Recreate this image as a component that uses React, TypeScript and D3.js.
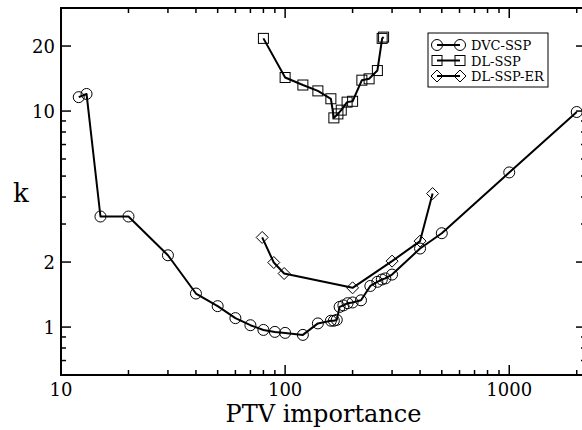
import React, { useEffect, useRef } from "react";
import * as d3 from "d3";

// DVC-SSP
const dvcX = [12, 13, 15, 20, 30, 40, 50, 60, 70, 80, 90, 100, 120, 140, 160, 165, 170, 175, 182, 190, 200, 218, 240, 258, 270, 280, 300, 400, 500, 1000, 2000];
const dvcK = [11.6, 12.0, 3.25, 3.25, 2.15, 1.43, 1.25, 1.1, 1.02, 0.97, 0.95, 0.94, 0.92, 1.04, 1.07, 1.07, 1.08, 1.24, 1.26, 1.29, 1.3, 1.33, 1.55, 1.62, 1.66, 1.68, 1.75, 2.31, 2.72, 5.2, 9.9];

// DL-SSP
const dlX = [80, 100, 120, 140, 160, 165, 172, 178, 189, 200, 220, 237, 258, 271, 275];
const dlK = [21.7, 14.3, 13.2, 12.4, 11.4, 9.3, 9.7, 10.1, 11.0, 11.1, 13.9, 14.1, 15.4, 21.7, 22.0];

// DL-SSP-ER
const erX = [79, 89, 99, 200, 300, 400, 455];
const erK = [2.6, 1.99, 1.77, 1.52, 2.02, 2.5, 4.15];

const seriesNames = ["DVC-SSP", "DL-SSP", "DL-SSP-ER"];
const seriesSymbols = ["circle", "square", "diamond"];

const xMajor = [10, 100, 1000];
const xMinor = [20, 30, 40, 50, 60, 70, 80, 90, 200, 300, 400, 500, 600, 700, 800, 900, 2000];
const yMajor = [1, 2, 10, 20];
const yMinor = [0.7, 0.8, 0.9, 3, 4, 5, 6, 7, 8, 9];

const FONT = "'DejaVu Serif', serif";

function drawSymbol(g: any, type: string, cx: number, cy: number) {
  if (type === "circle") {
    g.append("circle").attr("cx", cx).attr("cy", cy).attr("r", 5.5)
      .attr("fill", "none").attr("stroke", "#000").attr("stroke-width", 1);
  } else if (type === "square") {
    g.append("rect").attr("x", cx - 5).attr("y", cy - 5).attr("width", 10).attr("height", 10)
      .attr("fill", "none").attr("stroke", "#000").attr("stroke-width", 1);
  } else {
    const s = 6;
    g.append("path")
      .attr("d", `M${cx - s},${cy}L${cx},${cy - s}L${cx + s},${cy}L${cx},${cy + s}Z`)
      .attr("fill", "none").attr("stroke", "#000").attr("stroke-width", 1);
  }
}

const App = () => {
  const svgRef = useRef<SVGSVGElement>(null);

  useEffect(() => {
    const svg = d3.select(svgRef.current);
    svg.selectAll("*").remove();

    const left = 61, right = 586, top = 8, bottom = 375;
    const x = d3.scaleLog().domain([10, 2200]).range([left, right]);
    const y = d3.scaleLog().domain([0.6, 30]).range([bottom, top]);

    // data
    const series = [
      { xs: dvcX, ks: dvcK, sym: seriesSymbols[0] },
      { xs: dlX, ks: dlK, sym: seriesSymbols[1] },
      { xs: erX, ks: erK, sym: seriesSymbols[2] },
    ];
    const line = d3.line<[number, number]>().x((d) => x(d[0])).y((d) => y(d[1]));

    series.forEach((s) => {
      const pts = s.xs.map((v, i) => [v, s.ks[i]] as [number, number]);
      svg.append("path").attr("d", line(pts)).attr("fill", "none")
        .attr("stroke", "#000").attr("stroke-width", 2).attr("stroke-linejoin", "round");
      const g = svg.append("g");
      pts.forEach((p) => drawSymbol(g, s.sym, x(p[0]), y(p[1])));
    });

    // ticks, all pointing inward
    const ticks = svg.append("g").attr("stroke", "#000").attr("stroke-width", 1.5);
    const xt = (v: number, len: number) => {
      ticks.append("line").attr("x1", x(v)).attr("x2", x(v)).attr("y1", bottom).attr("y2", bottom - len);
      ticks.append("line").attr("x1", x(v)).attr("x2", x(v)).attr("y1", top).attr("y2", top + len);
    };
    const yt = (v: number, len: number) => {
      ticks.append("line").attr("x1", left).attr("x2", left + len).attr("y1", y(v)).attr("y2", y(v));
      ticks.append("line").attr("x1", right).attr("x2", right - len).attr("y1", y(v)).attr("y2", y(v));
    };
    xMajor.forEach((v) => xt(v, 10));
    xMinor.forEach((v) => xt(v, 5));
    yMajor.forEach((v) => yt(v, 10));
    yMinor.forEach((v) => yt(v, 5));

    // frame
    svg.append("rect").attr("x", left).attr("y", top).attr("width", right - left).attr("height", bottom - top)
      .attr("fill", "none").attr("stroke", "#000").attr("stroke-width", 2);

    // tick labels
    xMajor.forEach((v) => {
      svg.append("text").attr("x", x(v)).attr("y", 396).attr("text-anchor", "middle")
        .style("font-family", FONT).style("font-size", "18px").text(String(v));
    });
    yMajor.forEach((v) => {
      svg.append("text").attr("x", 55).attr("y", y(v) + 7).attr("text-anchor", "end")
        .style("font-family", FONT).style("font-size", "18px").text(String(v));
    });

    // axis titles
    svg.append("text").attr("x", (225 + 422) / 2).attr("y", 422).attr("text-anchor", "middle")
      .style("font-family", FONT).style("font-size", "24px").text("PTV importance");
    svg.append("text").attr("x", 13).attr("y", 202)
      .style("font-family", FONT).style("font-size", "26px").text("k");

    // legend
    const lg = svg.append("g");
    lg.append("rect").attr("x", 428).attr("y", 33).attr("width", 120).attr("height", 54)
      .attr("fill", "#fff").attr("stroke", "#000").attr("stroke-width", 1);
    seriesNames.forEach((name, i) => {
      const ry = 45 + i * 15.5;
      lg.append("line").attr("x1", 437).attr("x2", 460).attr("y1", ry).attr("y2", ry)
        .attr("stroke", "#000").attr("stroke-width", 2);
      drawSymbol(lg, seriesSymbols[i], 437, ry);
      drawSymbol(lg, seriesSymbols[i], 460, ry);
      lg.append("text").attr("x", 471).attr("y", ry + 5)
        .style("font-family", FONT).style("font-size", "13px").text(name);
    });
  }, []);

  return (
    <svg ref={svgRef} width={582} height={430}
      style={{ position: "absolute", left: 0, top: 0, background: "#fff" }} />
  );
};

export default App;
